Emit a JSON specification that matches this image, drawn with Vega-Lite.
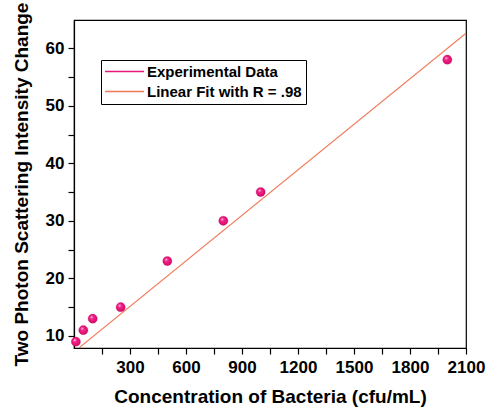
{
  "$schema": "https://vega.github.io/schema/vega-lite/v6.json",
  "width": 392,
  "height": 328,
  "autosize": {"type": "none"},
  "padding": {"left": 74, "top": 20, "right": 21, "bottom": 59},
  "background": "white",
  "config": {
    "font": "Liberation Sans",
    "view": {"stroke": "black", "strokeWidth": 1.2},
    "axis": {
      "domainColor": "black",
      "domainWidth": 1.2,
      "tickColor": "black",
      "tickWidth": 1.2,
      "grid": false,
      "labelFont": "Liberation Sans",
      "labelFontWeight": "bold",
      "labelFontSize": 17,
      "labelColor": "black",
      "titleFont": "Liberation Sans",
      "titleFontWeight": "bold",
      "titleFontSize": 19,
      "titleColor": "black"
    }
  },
  "datasets": {
    "exp": [
      {"x": 10, "y": 9},
      {"x": 50, "y": 11},
      {"x": 100, "y": 13},
      {"x": 250, "y": 15},
      {"x": 500, "y": 23},
      {"x": 800, "y": 30},
      {"x": 1000, "y": 35},
      {"x": 2000, "y": 58}
    ],
    "fit": [
      {"x": 28, "y": 7.95, "s": "Linear Fit with R = .98"},
      {"x": 2100, "y": 62.6, "s": "Linear Fit with R = .98"}
    ]
  },
  "encoding": {
    "x": {
      "field": "x", "type": "quantitative",
      "scale": {"domain": [0, 2100], "nice": false, "zero": false},
      "axis": {
        "title": "Concentration of Bacteria (cfu/mL)",
        "values": [150, 300, 450, 600, 750, 900, 1050, 1200, 1350, 1500, 1650, 1800, 1950, 2100],
        "format": "d",
        "labelExpr": "datum.value % 300 === 0 ? datum.label : ''",
        "tickSize": 6,
        "labelPadding": 5,
        "labelFlush": false,
        "labelOverlap": false,
        "titlePadding": 12,
        "encode": {
          "ticks": {"update": {"y2": {"condition": {"test": "datum.value % 300 !== 0", "value": 3.5}, "value": 6}}}
        }
      }
    },
    "y": {
      "field": "y", "type": "quantitative",
      "scale": {"domain": [7.9, 64.9], "nice": false, "zero": false},
      "axis": {
        "title": "Two Photon Scattering Intensity Change",
        "values": [10, 15, 20, 25, 30, 35, 40, 45, 50, 55, 60],
        "labelExpr": "datum.value % 10 === 0 ? datum.label : ''",
        "tickSize": 6,
        "labelPadding": 4,
        "labelFlush": false,
        "labelOverlap": false,
        "titlePadding": 14,
        "encode": {
          "ticks": {"update": {"x2": {"condition": {"test": "datum.value % 10 !== 0", "value": -3.5}, "value": -6}}}
        }
      }
    }
  },
  "layer": [
    {
      "data": {"name": "fit"},
      "mark": {"type": "line", "strokeWidth": 1.1, "clip": true},
      "encoding": {
        "color": {
          "field": "s", "type": "nominal",
          "scale": {"domain": ["Experimental Data", "Linear Fit with R = .98"], "range": ["#E5157A", "#F07A5A"]},
          "legend": {
            "title": null,
            "orient": "none",
            "legendX": 27,
            "legendY": 40,
            "padding": 4,
            "strokeColor": "black",
            "fillColor": "white",
            "labelFont": "Liberation Sans",
            "labelFontWeight": "bold",
            "labelFontSize": 15,
            "labelColor": "black",
            "labelOffset": 15,
            "labelExpr": "datum.label + '        '",
            "rowPadding": 4,
            "symbolSize": 90,
            "symbolStrokeWidth": 1.5,
            "symbolOffset": 12,
            "encode": {
              "symbols": {
                "update": {
                  "shape": {"condition": {"test": "datum.index === 0", "value": "circle"}, "value": "M-4.1,0H4.1"},
                  "fill": {"condition": {"test": "datum.index === 0", "value": "#E8187C"}, "value": "transparent"},
                  "stroke": {"condition": {"test": "datum.index === 0", "value": "#E0137A"}, "value": "#F5A085"}
                }
              }
            }
          }
        }
      }
    },
    {
      "data": {"name": "exp"},
      "mark": {"type": "point", "filled": true, "size": 85, "opacity": 1,
        "fill": {"gradient": "radial", "x1": 0.35, "y1": 0.3, "r1": 0, "x2": 0.5, "y2": 0.5, "r2": 0.55,
          "stops": [{"offset": 0, "color": "#FFD6E8"}, {"offset": 0.35, "color": "#F0208A"}, {"offset": 0.8, "color": "#E0106E"}, {"offset": 1, "color": "#B00A55"}]},
        "stroke": "#C80E62", "strokeWidth": 0.3}
    }
  ]
}
